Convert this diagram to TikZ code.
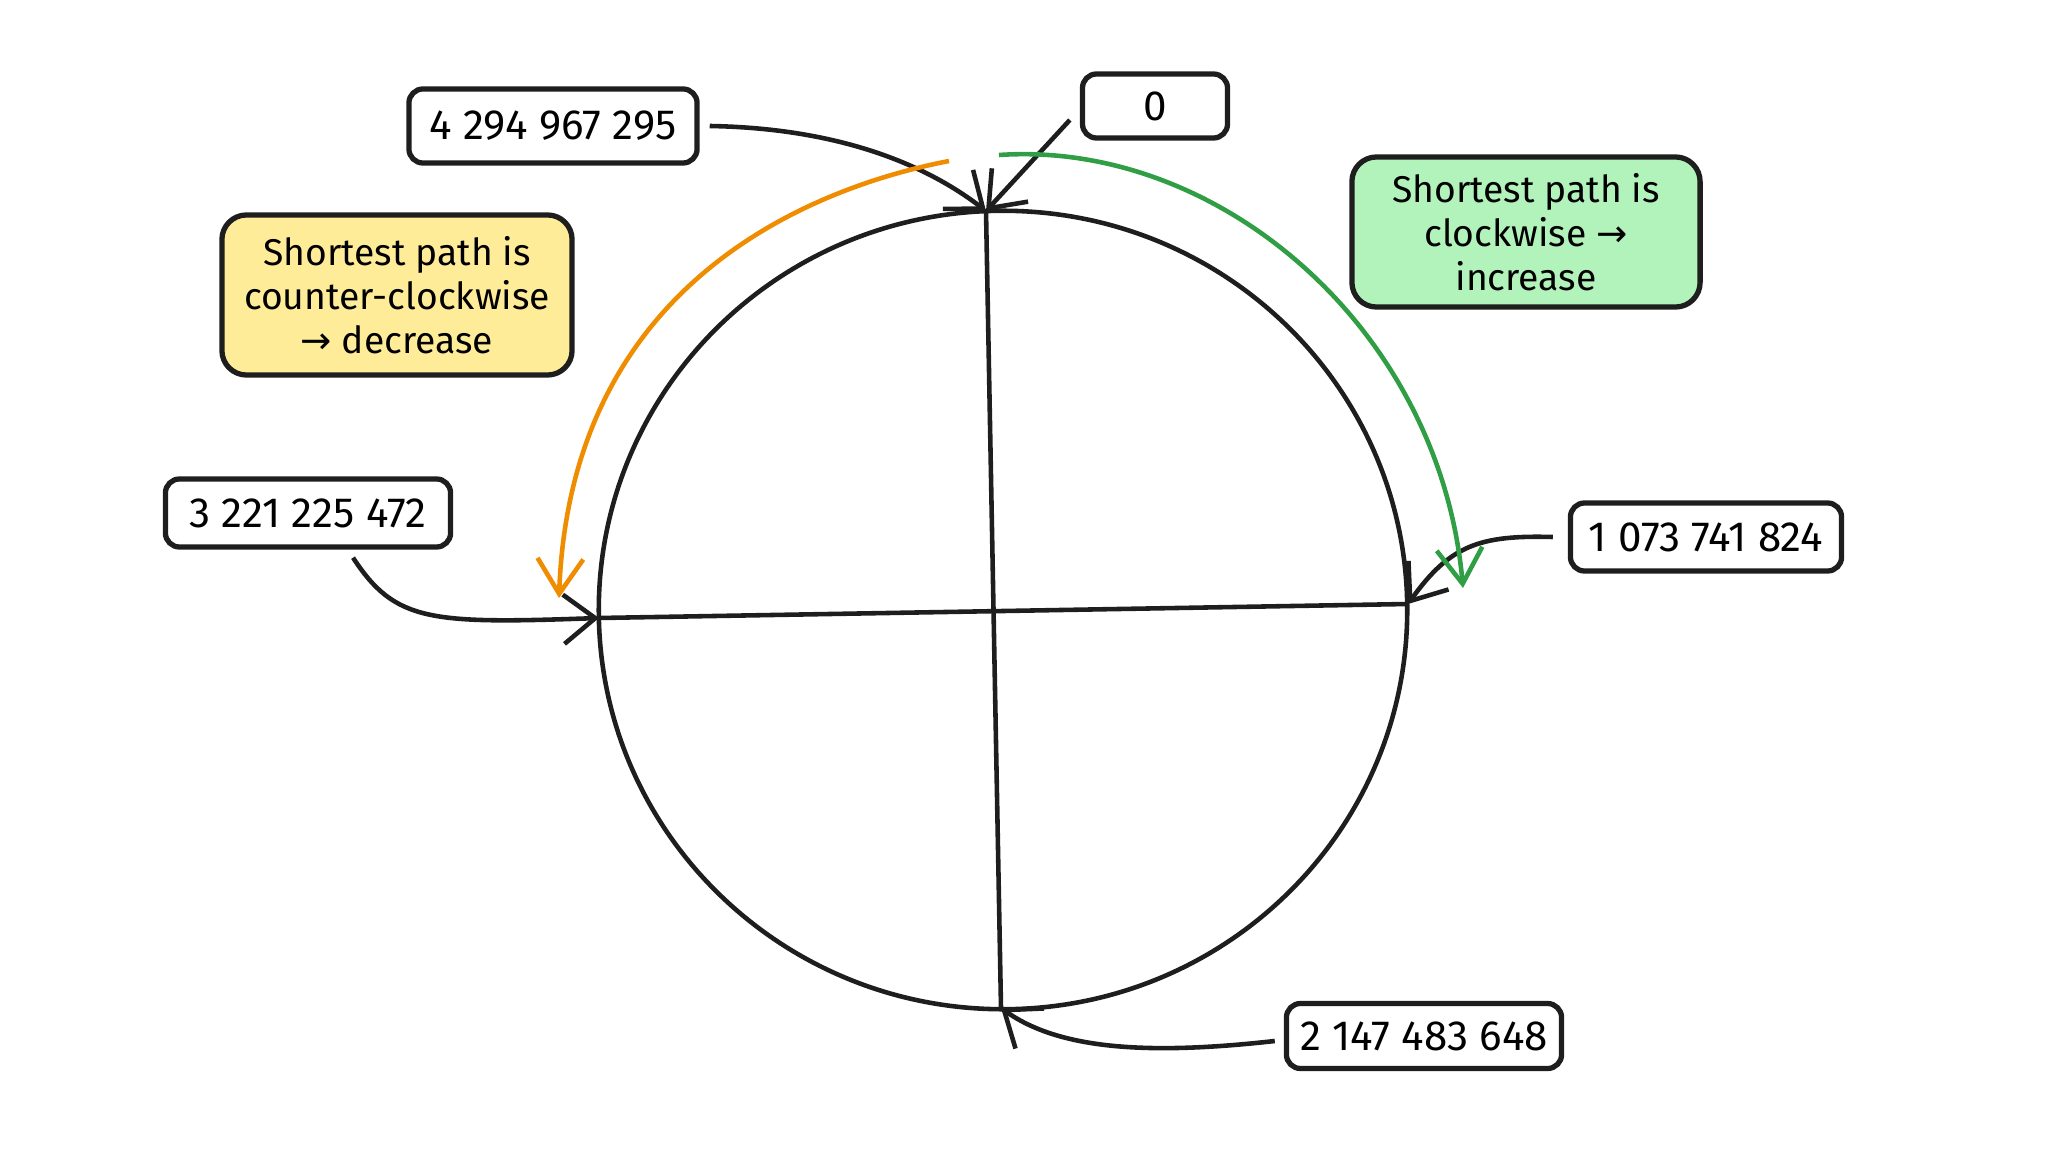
\documentclass[tikz,border=0pt]{standalone}
\usepackage{fontspec}
\setmainfont{Fira Sans}
\newfontfamily\arrowfont{DejaVu Sans}
\usetikzlibrary{arrows.meta}
\definecolor{noteyellow}{HTML}{FFEC99}
\definecolor{notegreen}{HTML}{B2F2BB}
\definecolor{ccworange}{HTML}{F08C00}
\definecolor{cwgreen}{HTML}{2F9E44}
\definecolor{ink}{HTML}{1E1E1E}
\begin{document}
\begin{tikzpicture}[x=0.01cm,y=-0.01cm,
  valbox/.style={draw=ink, line width=1.5pt, rounded corners=4pt, fill=white,
    font=\fontsize{12}{14}\selectfont, inner sep=0pt},
  notebox/.style={draw=ink, line width=1.5pt, rounded corners=7pt, align=center,
    font=\fontsize{10.6}{12.6}\selectfont, inner sep=0pt},
  conn/.style={draw=ink, line width=1.3pt, -{Straight Barb[length=9pt,width=14pt]}},
  pathar/.style={line width=1.3pt, -{Straight Barb[length=10pt,width=13pt]}},
  ring/.style={draw=ink, line width=1.3pt}]
\useasboundingbox (0,0) rectangle (2048,1152);

% ring
\draw[ring] (1003,610) ellipse [x radius=4.04cm, y radius=3.99cm];
\coordinate (top) at (986,211);
\coordinate (bot) at (1001,1008);
\coordinate (lft) at (599,618);
\coordinate (rgt) at (1408,604);
\draw[ring] (top) -- (bot);
\draw[ring] (lft) -- (rgt);

% value boxes
\node[valbox, minimum width=2.88cm, minimum height=0.74cm] (v4294) at (553,126) {4 294 967 295};
\node[valbox, minimum width=1.45cm, minimum height=0.64cm] (v0) at (1155,106) {0};
\node[valbox, minimum width=2.85cm, minimum height=0.68cm] (v3221) at (308,513) {3 221 225 472};
\node[valbox, minimum width=2.71cm, minimum height=0.68cm] (v1073) at (1706,537) {1 073 741 824};
\node[valbox, minimum width=2.75cm, minimum height=0.65cm] (v2147) at (1424,1036) {2 147 483 648};

% note boxes
\node[notebox, fill=noteyellow, minimum width=3.5cm, minimum height=1.6cm] (ccw) at (397,295)
  {Shortest path is\\counter-clockwise\\{\arrowfont →} decrease};
\node[notebox, fill=notegreen, minimum width=3.48cm, minimum height=1.5cm] (cw) at (1526,232)
  {Shortest path is\\clockwise {\arrowfont →}\\increase};

% connectors from value boxes to the ring
\draw[conn] ([xshift=0.1cm]v4294.east) .. controls (830,128) and (920,160) .. (top);
\draw[conn] ([shift={(-0.1cm,-0.14cm)}]v0.west) -- (top);
\draw[conn] ([shift={(0.45cm,-0.08cm)}]v3221.south) .. controls (395,622) and (430,624) .. (lft);
\draw[conn] ([xshift=-0.15cm]v1073.west) .. controls (1480,535) and (1450,545) .. (rgt);
\draw[conn] ([shift={(-0.09cm,-0.05cm)}]v2147.west) .. controls (1150,1055) and (1060,1050) .. (bot);

% shortest-path arrows
\coordinate (oS) at (949,161);
\coordinate (oE) at (559,598);
\coordinate (gS) at (999,155);
\coordinate (gE) at (1463,588);
\draw[pathar, draw=ccworange] (oS) .. controls (800,190) and (570,290) .. (oE);
\draw[pathar, draw=cwgreen] (gS) .. controls (1220,140) and (1440,330) .. (gE);
\end{tikzpicture}
\end{document}
